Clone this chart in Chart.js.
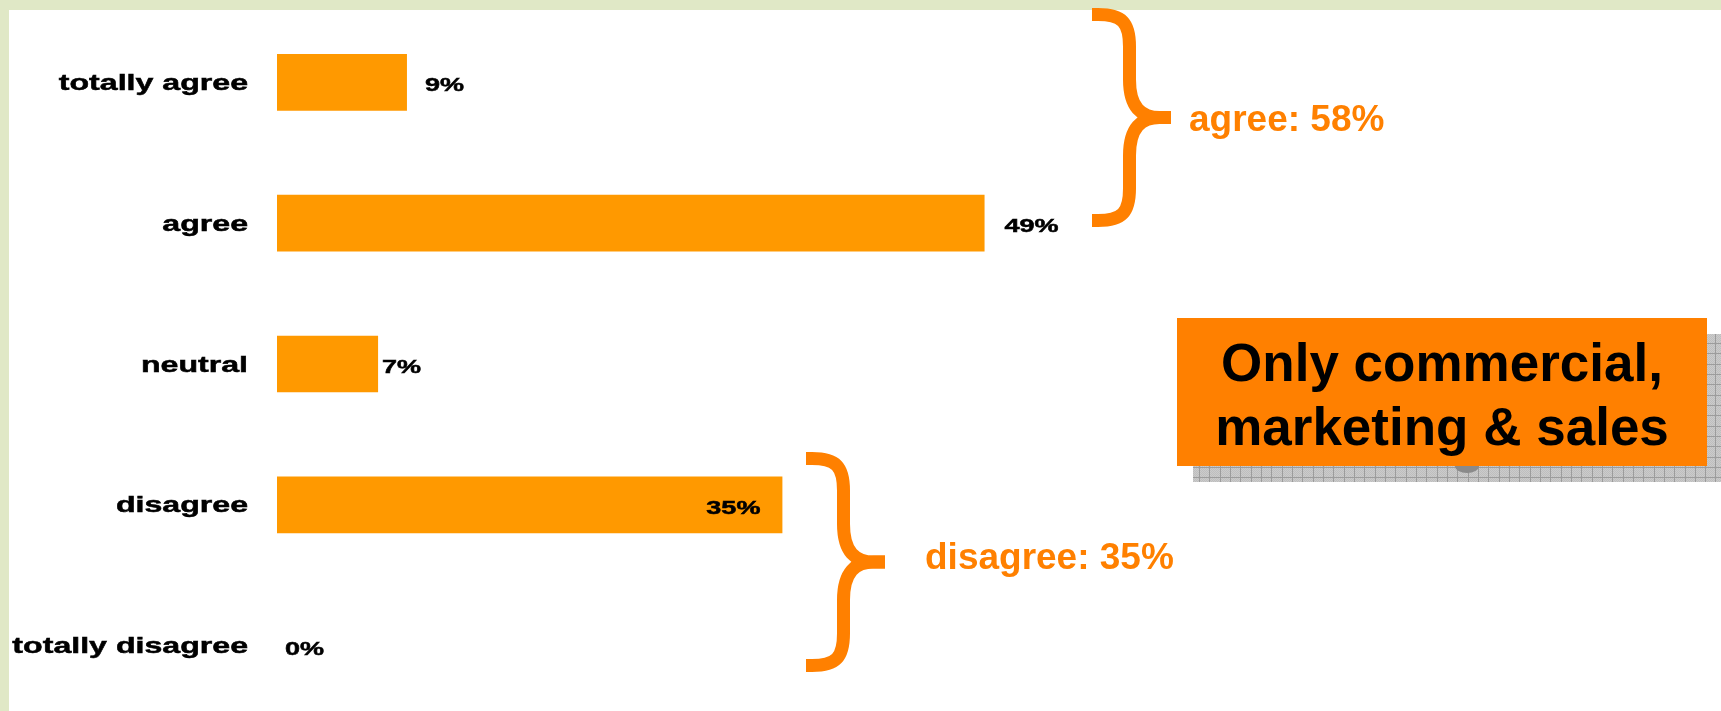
<!DOCTYPE html>
<html>
<head>
<meta charset="utf-8">
<script src="https://cdn.jsdelivr.net/npm/chart.js@4/dist/chart.umd.min.js"></script>
<style>
  html, body { margin: 0; padding: 0; background: #ffffff; overflow: hidden; }
  #wrap { position: relative; width: 1721px; height: 711px; overflow: hidden; }
  canvas { display: block; }
</style>
</head>
<body>
<div id="wrap"><canvas id="chart" width="1721" height="720"></canvas></div>
<script>
// Survey answers, one bar per answer
const categories = ['totally agree', 'agree', 'neutral', 'disagree', 'totally disagree'];
const shares = [9, 49, 7, 35, 0];

// Groupings summarised next to the bars
const groupNames = ['agree', 'disagree'];
const groupMembers = [[0, 1], [3, 4]];

// Callout text
const calloutLines = ['Only commercial,', 'marketing & sales'];

// ---- styling / layout (not data) ----
const BAR_COLOR = '#FF9900';
const ACCENT = '#FF8000';
const FRAME_COLOR = '#E0E8C6';
const TEXT_STRETCH = 1.46;           // the labels are set wide
const LABEL_FONT = 'bold 22px "Liberation Sans", Arial, sans-serif';
const VALUE_FONT = 'bold 18.5px "Liberation Sans", Arial, sans-serif';
// gap between bar end and its value label (negative: label sits inside the bar)
const valueGaps = [18, 20, 4, -22, 8];
// brace placement: left x, top edge, bottom edge, text x, text baseline
const braceLayout = [
  { x: 1092, top: 8, bottom: 227, textX: 1189, textY: 131 },
  { x: 806, top: 452, bottom: 672, textX: 925, textY: 569 }
];
const callout = { x: 1177, y: 318, w: 530, h: 148, shadow: 16 };

function drawWide(ctx, text, x, y, align) {
  ctx.save();
  ctx.translate(x, y);
  ctx.scale(TEXT_STRETCH, 1);
  ctx.textAlign = align;
  ctx.textBaseline = 'alphabetic';
  ctx.lineWidth = 0.5;
  ctx.strokeStyle = ctx.fillStyle;
  ctx.fillText(text, 0, 0);
  ctx.strokeText(text, 0, 0);
  ctx.restore();
}

function drawBrace(ctx, L, T, B) {
  const lw = 13;
  const W = 79;
  const mid = (T + B) / 2;
  const armY = T + lw / 2;
  const stemX = L + 37.5;
  const half = (s) => {
    // s = +1 for upper half, -1 for lower half (mirrored about mid)
    const Y = (y) => s > 0 ? y : 2 * mid - y;
    ctx.beginPath();
    ctx.moveTo(L, Y(armY));
    ctx.lineTo(L + 6, Y(armY));
    ctx.bezierCurveTo(L + 30, Y(armY), stemX, Y(armY + 8), stemX, Y(armY + 32));
    ctx.lineTo(stemX, Y(mid - 38));
    ctx.bezierCurveTo(stemX, Y(mid - 10), stemX + 12, Y(mid), stemX + 30, Y(mid));
    ctx.lineTo(L + W, Y(mid));
    ctx.stroke();
  };
  ctx.save();
  ctx.strokeStyle = ACCENT;
  ctx.lineWidth = lw;
  ctx.lineCap = 'butt';
  ctx.lineJoin = 'round';
  half(1);
  half(-1);
  ctx.restore();
}

function shadowPattern(ctx) {
  const c = document.createElement('canvas');
  c.width = 2; c.height = 2;
  const p = c.getContext('2d');
  p.fillStyle = '#CBCBCB'; p.fillRect(0, 0, 2, 2);
  p.fillStyle = '#BEBEBE'; p.fillRect(0, 0, 1, 1); p.fillRect(1, 1, 1, 1);
  return ctx.createPattern(c, 'repeat');
}

const decorations = {
  id: 'decorations',
  beforeDraw(chart) {
    const ctx = chart.ctx;
    ctx.save();
    ctx.fillStyle = FRAME_COLOR;
    ctx.fillRect(0, 0, chart.width, chart.height);
    ctx.fillStyle = '#FFFFFF';
    ctx.fillRect(9, 10, chart.width - 9, chart.height - 10);
    ctx.restore();
  },
  afterDatasetsDraw(chart) {
    const ctx = chart.ctx;
    const yScale = chart.scales.y;
    const area = chart.chartArea;

    // category labels
    ctx.save();
    ctx.fillStyle = '#000000';
    ctx.font = LABEL_FONT;
    categories.forEach((name, i) => {
      drawWide(ctx, name, area.left - 29, yScale.getPixelForValue(i) + 7.5, 'right');
    });

    // value labels
    ctx.font = VALUE_FONT;
    const bars = chart.getDatasetMeta(0).data;
    bars.forEach((bar, i) => {
      const gap = valueGaps[i];
      const text = shares[i] + '%';
      drawWide(ctx, text, bar.x + gap, bar.y + 9, gap >= 0 ? 'left' : 'right');
    });
    ctx.restore();

    // braces with group totals
    groupNames.forEach((g, k) => {
      const b = braceLayout[k];
      drawBrace(ctx, b.x, b.top, b.bottom);
      const total = groupMembers[k].reduce((s, i) => s + shares[i], 0);
      ctx.save();
      ctx.fillStyle = ACCENT;
      ctx.font = 'bold 37px "Liberation Sans", Arial, sans-serif';
      ctx.textAlign = 'left';
      ctx.textBaseline = 'alphabetic';
      ctx.fillText(g + ': ' + total + '%', b.textX, b.textY);
      ctx.restore();
    });

    // callout box with textured drop shadow
    const c = callout;
    ctx.save();
    const sx = c.x + c.shadow, sy = c.y + c.shadow;
    ctx.fillStyle = shadowPattern(ctx);
    ctx.fillRect(sx, sy, c.w + 40, c.h);
    ctx.strokeStyle = '#9C9C9C';
    ctx.lineWidth = 1;
    ctx.beginPath();
    for (let x = sx + 6; x < sx + c.w + 40; x += 10.33) {
      ctx.moveTo(Math.round(x) + 0.5, sy);
      ctx.lineTo(Math.round(x) + 0.5, sy + c.h);
    }
    for (let y = sy + 9; y < sy + c.h; y += 10.33) {
      ctx.moveTo(sx, Math.round(y) + 0.5);
      ctx.lineTo(sx + c.w + 40, Math.round(y) + 0.5);
    }
    ctx.stroke();
    ctx.fillStyle = '#8A8A8A';
    ctx.beginPath();
    ctx.ellipse(c.x + 290, c.y + c.h, 12, 7, 0, 0, Math.PI * 2);
    ctx.fill();
    ctx.fillStyle = ACCENT;
    ctx.fillRect(c.x, c.y, c.w, c.h);
    ctx.fillStyle = '#000000';
    ctx.font = 'bold 53px "Liberation Sans", Arial, sans-serif';
    ctx.textAlign = 'center';
    ctx.textBaseline = 'alphabetic';
    ctx.fillText(calloutLines[0], c.x + c.w / 2, 381);
    ctx.fillText(calloutLines[1], c.x + c.w / 2, 445);
    ctx.restore();
  }
};

new Chart(document.getElementById('chart'), {
  type: 'bar',
  data: {
    labels: categories,
    datasets: [{
      data: shares,
      backgroundColor: BAR_COLOR,
      borderWidth: 0,
      barPercentage: 0.403,
      categoryPercentage: 1.0
    }]
  },
  options: {
    indexAxis: 'y',
    responsive: false,
    devicePixelRatio: 1,
    animation: false,
    layout: { padding: { left: 0, right: 0, top: 12, bottom: 4 } },
    plugins: { legend: { display: false }, tooltip: { enabled: false } },
    scales: {
      x: { display: false, min: 0, max: 100 },
      y: {
        type: 'category',
        grid: { display: false },
        border: { display: false },
        ticks: { display: false },
        afterFit(scale) { scale.width = 277; }
      }
    }
  },
  plugins: [decorations]
});
</script>
</body>
</html>
